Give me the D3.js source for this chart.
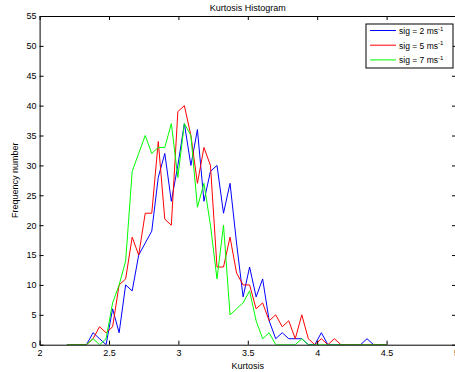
<!DOCTYPE html>
<html>
  <head>
    <meta charset="utf-8">
    <title>Kurtosis Histogram</title>
    <script src="https://d3js.org/d3.v7.min.js"></script>
    <style>
      body { margin: 0; background: #fff; }
      svg { display: block; font-family: "Liberation Sans", Arial, sans-serif; }
      .axis text { font-size: 9px; fill: #000; }
      .axis path, .axis line { stroke: #000; }
    </style>
  </head>
  <body>
    <div id="chart"></div>

    <script type="text/javascript">
      // bin centres shared by the three histograms
      var binCenters = [2.197, 2.244, 2.291, 2.338, 2.385, 2.432, 2.479, 2.526, 2.573, 2.620,
                        2.667, 2.714, 2.761, 2.808, 2.855, 2.902, 2.949, 2.996, 3.043, 3.090,
                        3.137, 3.184, 3.231, 3.278, 3.325, 3.372, 3.419, 3.466, 3.513, 3.560,
                        3.607, 3.654, 3.701, 3.748, 3.795, 3.842, 3.889, 3.936, 3.983, 4.030,
                        4.077, 4.124, 4.171, 4.218, 4.265, 4.312, 4.359, 4.406, 4.453, 4.500];

      var sig2Counts = [0, 0, 0, 0, 2, 1, 0, 6, 2, 10,
                        9, 15, 17, 19, 28, 32, 24, 30, 37, 30,
                        36, 24, 29, 30, 22, 27, 17, 8, 13, 8,
                        11, 4, 1, 2, 1, 1, 1, 0, 0, 2,
                        0, 0, 0, 0, 0, 0, 1, 0, 0, 0];

      var sig5Counts = [0, 0, 0, 0, 1, 3, 2, 3, 10, 11,
                        18, 15, 22, 22, 34, 21, 20, 39, 40, 35,
                        27, 33, 30, 13, 13, 18, 12, 10, 10, 6,
                        7, 4, 5, 3, 4, 1, 5, 1, 0, 1,
                        0, 1, 0, 0, 0, 0, 0, 0, 0, 0];

      var sig7Counts = [0, 0, 0, 0, 1, 0, 1, 7, 10, 14,
                        29, 32, 35, 32, 33, 33, 37, 28, 37, 35,
                        23, 27, 20, 11, 20, 5, 6, 7, 9, 4,
                        1, 2, 0, 0, 0, 0, 1, 0, 0, 0,
                        0, 0, 0, 0, 0, 0, 0, 0, 0, 0];

      var seriesNames = ['sig = 2 ms', 'sig = 5 ms', 'sig = 7 ms'];
      var xTicks = [2, 2.5, 3, 3.5, 4, 4.5, 5];
      var yTicks = [0, 5, 10, 15, 20, 25, 30, 35, 40, 45, 50, 55];

      var colors = ['#0000ff', '#ff0000', '#00ff00'];

      var width = 455,
          height = 372;

      // plot box (right edge sits just past the window, like the original)
      var box = {left: 39.6, right: 456, top: 16, bottom: 344.7};

      var svg = d3.select('#chart').append('svg')
          .attr('width', width)
          .attr('height', height);

      var x = d3.scaleLinear().domain([2, 5]).range([box.left, box.right]);
      var y = d3.scaleLinear().domain([0, 55]).range([box.bottom, box.top]);

      svg.append('defs').append('clipPath').attr('id', 'plotclip')
        .append('rect')
          .attr('x', box.left).attr('y', box.top)
          .attr('width', box.right - box.left).attr('height', box.bottom - box.top);

      // lines, drawn in MATLAB order so green ends up on top
      var line = d3.line()
          .x(function(d) { return x(d[0]); })
          .y(function(d) { return y(d[1]); });

      var series = [sig2Counts, sig5Counts, sig7Counts];
      var plot = svg.append('g').attr('clip-path', 'url(#plotclip)');
      series.forEach(function(counts, i) {
        plot.append('path')
          .datum(binCenters.map(function(c, j) { return [c, counts[j]]; }))
          .attr('fill', 'none')
          .attr('stroke', colors[i])
          .attr('stroke-width', 1)
          .attr('d', line);
      });

      // axes: ticks point inward on all four sides
      svg.append('g').attr('class', 'axis')
        .attr('transform', 'translate(0,' + box.bottom + ')')
        .call(d3.axisBottom(x).tickValues(xTicks).tickFormat(d3.format('')).tickSize(-4).tickSizeOuter(0).tickPadding(4.5));

      svg.append('g').attr('class', 'axis')
        .attr('transform', 'translate(' + box.left + ',0)')
        .call(d3.axisLeft(y).tickValues(yTicks).tickSize(-4).tickSizeOuter(0).tickPadding(3));

      svg.append('g').attr('class', 'axis')
        .attr('transform', 'translate(0,' + box.top + ')')
        .call(d3.axisTop(x).tickValues(xTicks).tickFormat('').tickSize(-4).tickSizeOuter(0));

      svg.append('g').attr('class', 'axis')
        .attr('transform', 'translate(' + box.right + ',0)')
        .call(d3.axisRight(y).tickValues(yTicks).tickFormat('').tickSize(-4).tickSizeOuter(0));

      // titles
      svg.append('text')
        .attr('x', (box.left + box.right) / 2).attr('y', 10.5)
        .attr('text-anchor', 'middle')
        .style('font-size', '9px')
        .text('Kurtosis Histogram');

      svg.append('text')
        .attr('x', (box.left + box.right) / 2).attr('y', 368.5)
        .attr('text-anchor', 'middle')
        .style('font-size', '9px')
        .text('Kurtosis');

      svg.append('text')
        .attr('transform', 'translate(18,' + (box.top + box.bottom) / 2 + ') rotate(-90)')
        .attr('text-anchor', 'middle')
        .style('font-size', '9px')
        .text('Frequency number');

      // legend
      var legend = svg.append('g').attr('transform', 'translate(366,24)');
      legend.append('rect')
        .attr('width', 87).attr('height', 44)
        .attr('fill', '#fff')
        .attr('stroke', '#000')
        .attr('stroke-width', 1);

      seriesNames.forEach(function(name, i) {
        var ly = 6.5 + i * 14.7;
        legend.append('line')
          .attr('x1', 4).attr('x2', 30)
          .attr('y1', ly).attr('y2', ly)
          .attr('stroke', colors[i])
          .attr('stroke-width', 1);
        var t = legend.append('text')
          .attr('x', 33).attr('y', ly + 3.5)
          .style('font-size', '8.5px');
        t.append('tspan').text(name);
        t.append('tspan')
          .attr('dy', -3.5)
          .style('font-size', '6px')
          .text('-1');
      });
    </script>
  </body>
</html>
